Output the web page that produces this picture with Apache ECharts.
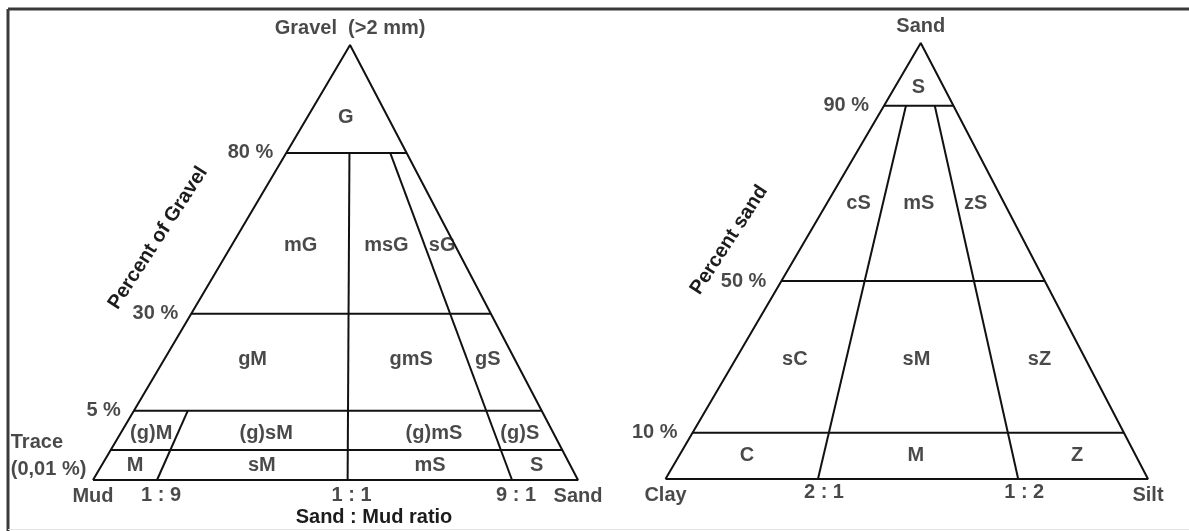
<!DOCTYPE html>
<html>
<head>
<meta charset="utf-8">
<style>
  html, body { margin: 0; padding: 0; background: #fff; }
  #chart { width: 1189px; height: 531px; }
</style>
<script src="https://cdn.jsdelivr.net/npm/echarts@6/dist/echarts.min.js"></script>
</head>
<body>
<div id="chart"></div>
<script>
// Left: gravel - sand - mud triangle. Right: sand - silt - clay triangle.
// The diagrams are schematic, so every level is given as the fraction of the
// drawn triangle height where it sits, and every ratio as a fraction of the base.

const gravelLevels = ['80 %', '30 %', '5 %', 'Trace\n(0,01 %)'];
const gravelLevelHeights = [0.752, 0.382, 0.159, 0.069];
const sandMudRatios = ['1 : 9', '1 : 1', '9 : 1'];
const sandMudRatioPos = [0.132, 0.525, 0.864];
const sandMudRatioTop = [2, 0, 0]; // level each ratio line starts from
const gravelApex = 0.53;
const gravelCorners = ['Mud', 'Gravel  (>2 mm)', 'Sand'];
const gravelClasses = ['G', 'mG', 'msG', 'sG', 'gM', 'gmS', 'gS', '(g)M', '(g)sM', '(g)mS', '(g)S', 'M', 'sM', 'mS', 'S'];
const gravelClassX = [0.521, 0.428, 0.605, 0.720, 0.329, 0.656, 0.814, 0.120, 0.357, 0.703, 0.880, 0.087, 0.348, 0.695, 0.915];
const gravelClassY = [0.834, 0.540, 0.540, 0.540, 0.276, 0.276, 0.276, 0.108, 0.108, 0.108, 0.108, 0.034, 0.034, 0.034, 0.034];

const sandLevels = ['90 %', '50 %', '10 %'];
const sandLevelHeights = [0.856, 0.454, 0.106];
const siltClayRatios = ['2 : 1', '1 : 2'];
const siltClayRatioPos = [0.316, 0.731];
const siltClayRatioTop = [0, 0];
const sandApex = 0.529;
const sandCorners = ['Clay', 'Sand', 'Silt'];
const sandClasses = ['S', 'cS', 'mS', 'zS', 'sC', 'sM', 'sZ', 'C', 'M', 'Z'];
const sandClassX = [0.524, 0.400, 0.525, 0.643, 0.268, 0.520, 0.775, 0.169, 0.519, 0.853];
const sandClassY = [0.897, 0.631, 0.631, 0.631, 0.273, 0.273, 0.273, 0.055, 0.055, 0.055];

const FONT = '"Liberation Sans", Arial, sans-serif';
const INK = '#1c1c1c';
const textStyle = {color: INK, fontFamily: FONT, fontWeight: 'bold', fontSize: 20};

const lineSeries = (gridIndex, points) => ({
    type: 'line',
    xAxisIndex: gridIndex,
    yAxisIndex: gridIndex,
    data: points,
    symbol: 'none',
    silent: true,
    lineStyle: {color: '#111', width: 2},
    z: 2,
});

const labelSeries = (gridIndex, items, label) => ({
    type: 'scatter',
    xAxisIndex: gridIndex,
    yAxisIndex: gridIndex,
    symbolSize: 0,
    silent: true,
    data: items,
    label: Object.assign({show: true, formatter: (p) => p.name}, textStyle, label),
    z: 3,
});

const buildTriangle = (gridIndex, t) => {
    const a = t.apex;
    const leftAt = (h) => a * h;
    const rightAt = (h) => 1 - (1 - a) * h;
    const series = [];

    // Outline.
    series.push(lineSeries(gridIndex, [[0, 0], [a, 1], [1, 0], [0, 0]]));

    // Horizontal level boundaries.
    t.levelHeights.forEach((h) => {
        series.push(lineSeries(gridIndex, [[leftAt(h), h], [rightAt(h), h]]));
    });

    // Ratio boundaries, converging to the apex.
    t.ratioPos.forEach((r, i) => {
        const h = t.levelHeights[t.ratioTop[i]];
        series.push(lineSeries(gridIndex, [[r + (a - r) * h, h], [r, 0]]));
    });

    // Level labels on the left edge.
    series.push(labelSeries(gridIndex, t.levels.map((name, i) => {
        const h = t.levelHeights[i];
        const item = {name, value: [leftAt(h), h]};
        if (name.includes('\n')) {
            const [l1, l2] = name.split('\n');
            item.label = {
                distance: 23,
                offset: [0, 6],
                formatter: `{a|${l1}}\n{a|${l2}}`,
                rich: {a: Object.assign({}, textStyle, {width: 77, align: 'left', lineHeight: 27})},
            };
        }
        return item;
    }), {position: 'left', distance: t.levelGap}));

    // Ratio labels under the base.
    series.push(labelSeries(gridIndex, t.ratios.map((name, i) => ({name, value: [t.ratioPos[i], 0]})),
        {position: 'bottom', distance: t.ratioGap, offset: t.ratioOffset}));

    // Corner names.
    series.push(labelSeries(gridIndex, [
        {name: t.corners[0], value: [0, 0], label: {position: 'bottom'}},
        {name: t.corners[1], value: [a, 1], label: {position: 'top', distance: 7}},
        {name: t.corners[2], value: [1, 0], label: {position: 'bottom'}},
    ], {distance: 6}));

    // Class names.
    series.push(labelSeries(gridIndex, t.classes.map((name, i) => ({name, value: [t.classX[i], t.classY[i]]})),
        {position: 'inside'}));

    return series;
};

const series = [
    ...buildTriangle(0, {
        apex: gravelApex, levels: gravelLevels, levelHeights: gravelLevelHeights,
        ratios: sandMudRatios, ratioPos: sandMudRatioPos, ratioTop: sandMudRatioTop,
        corners: gravelCorners, classes: gravelClasses, classX: gravelClassX, classY: gravelClassY,
        levelGap: 13, ratioGap: 5, ratioOffset: [4, 0],
    }),
    ...buildTriangle(1, {
        apex: sandApex, levels: sandLevels, levelHeights: sandLevelHeights,
        ratios: siltClayRatios, ratioPos: siltClayRatioPos, ratioTop: siltClayRatioTop,
        corners: sandCorners, classes: sandClasses, classX: sandClassX, classY: sandClassY,
        levelGap: 15, ratioGap: 3, ratioOffset: [6, 0],
    }),
];

const hiddenAxis = (gridIndex) => ({type: 'value', gridIndex, min: 0, max: 1, show: false});

const chart = echarts.init(document.getElementById('chart'), null, {renderer: 'canvas'});
chart.setOption({
    animation: false,
    backgroundColor: '#fff',
    grid: [
        {left: 93, top: 45, width: 485, height: 435},
        {left: 665.5, top: 43, width: 482.5, height: 436},
    ],
    xAxis: [hiddenAxis(0), hiddenAxis(1)],
    yAxis: [hiddenAxis(0), hiddenAxis(1)],
    series,
    graphic: [
        // Frame.
        {type: 'line', shape: {x1: 8, y1: 9, x2: 1189, y2: 9}, style: {stroke: '#3a3a3a', lineWidth: 3}},
        {type: 'line', shape: {x1: 8, y1: 9, x2: 8, y2: 531}, style: {stroke: '#3a3a3a', lineWidth: 3}},
        {type: 'line', shape: {x1: 8, y1: 529.5, x2: 1189, y2: 529.5}, style: {stroke: '#e4e4e4', lineWidth: 1}},
        // Axis titles.
        {type: 'text', x: 374, y: 517, style: {text: 'Sand : Mud ratio', font: `bold 20px ${FONT}`, fill: INK, align: 'center', verticalAlign: 'middle'}},
        {type: 'text', x: 158, y: 238, rotation: 57 * Math.PI / 180, style: {text: 'Percent of Gravel', font: `bold 20px ${FONT}`, fill: INK, align: 'center', verticalAlign: 'middle'}},
        {type: 'text', x: 729, y: 240, rotation: 57 * Math.PI / 180, style: {text: 'Percent sand', font: `bold 20px ${FONT}`, fill: INK, align: 'center', verticalAlign: 'middle'}},
    ],
});
</script>
</body>
</html>
